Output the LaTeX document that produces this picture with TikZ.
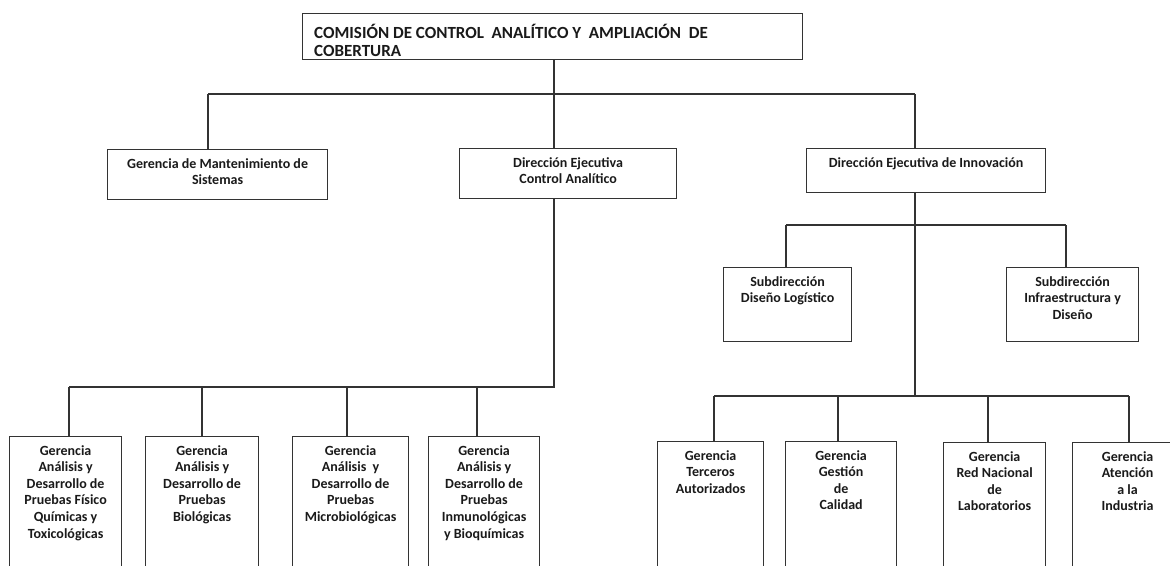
\documentclass[tikz,border=0pt]{standalone}
\usepackage{fontspec}
\setmainfont{Carlito}
\usetikzlibrary{positioning}
\definecolor{linecol}{HTML}{333333}
\definecolor{txtcol}{HTML}{1A1A1A}
\begin{document}
\begin{tikzpicture}[x=1pt,y=-1pt,
  box/.style={draw=linecol, line width=1.2pt, rectangle, anchor=north west, inner sep=0pt},
  txt/.style={anchor=north, yshift=-9pt, align=center, inner sep=0pt, text=txtcol,
    font=\bfseries\fontsize{14}{16.6}\selectfont},
  link/.style={draw=linecol, line width=1.2pt}]
\useasboundingbox (0,0) rectangle (1170,565);
\clip (0,0) rectangle (1170,565);
\fill[white] (0,0) rectangle (1170,565);

% --- boxes ---
\node[box, minimum width=500pt, minimum height=46pt] (top) at (302,13) {};
\node[box, minimum width=220pt, minimum height=50pt] (gms) at (107,149) {};
\node[box, minimum width=217pt, minimum height=50pt] (deca) at (459,148) {};
\node[box, minimum width=239pt, minimum height=44pt] (dei) at (806,148) {};
\node[box, minimum width=128pt, minimum height=74pt] (sdl) at (723,267) {};
\node[box, minimum width=132pt, minimum height=74pt] (sid) at (1006,267) {};
\node[box, minimum width=112pt, minimum height=150pt] (pfq) at (9,436) {};
\node[box, minimum width=113pt, minimum height=150pt] (pbi) at (145,436) {};
\node[box, minimum width=116pt, minimum height=150pt] (pmi) at (292,436) {};
\node[box, minimum width=111pt, minimum height=150pt] (pib) at (428,436) {};
\node[box, minimum width=106pt, minimum height=150pt] (gta) at (657,441) {};
\node[box, minimum width=111pt, minimum height=150pt] (ggc) at (785,441) {};
\node[box, minimum width=102pt, minimum height=150pt] (grn) at (943,442) {};
\node[box, minimum width=110pt, minimum height=150pt] (gai) at (1072,442) {};

% --- texts ---
\node[anchor=north west, align=left, inner sep=0pt, text=txtcol,
  font=\bfseries\fontsize{17}{18.5}\selectfont] (topt) at (314,24)
  {COMISIÓN DE CONTROL\ \ ANALÍTICO Y\ \ AMPLIACIÓN\ \ DE\\COBERTURA};
\node[txt] (gmst) at (gms.north) {Gerencia de Mantenimiento de\\Sistemas};
\node[txt] (decat) at (deca.north) {Dirección Ejecutiva\\Control Analítico};
\node[txt] (deit) at (dei.north) {Dirección Ejecutiva de Innovación};
\node[txt] (sdlt) at (sdl.north) {Subdirección\\Diseño Logístico};
\node[txt] (sidt) at (sid.north) {Subdirección\\Infraestructura y\\Diseño};
\node[txt] (pfqt) at (pfq.north) {Gerencia\\Análisis y\\Desarrollo de\\Pruebas Físico\\Químicas y\\Toxicológicas};
\node[txt] (pbit) at (pbi.north) {Gerencia\\Análisis y\\Desarrollo de\\Pruebas\\Biológicas};
\node[txt] (pmit) at (pmi.north) {Gerencia\\Análisis\ \ y\\Desarrollo de\\Pruebas\\Microbiológicas};
\node[txt] (pibt) at (pib.north) {Gerencia\\Análisis y\\Desarrollo de\\Pruebas\\Inmunológicas\\y Bioquímicas};
\node[txt] (gtat) at (gta.north) {Gerencia\\Terceros\\Autorizados};
\node[txt] (ggct) at (ggc.north) {Gerencia\\Gestión\\de\\Calidad};
\node[txt] (grnt) at (grn.north) {Gerencia\\Red Nacional\\de\\Laboratorios};
\node[txt] (gait) at (gai.north) {Gerencia\\Atención\\a la\\Industria};

% --- bus junctions ---
\coordinate (j0) at (554,94);
\coordinate (jl) at (208,94);
\coordinate (jr) at (915,94);
\coordinate (k0) at (554,387);
\coordinate (kl) at (69,387);
\coordinate (k2) at (202,387);
\coordinate (k3) at (347,387);
\coordinate (k4) at (477,387);
\coordinate (s0) at (915,225);
\coordinate (sl) at (786,225);
\coordinate (sr) at (1066,225);
\coordinate (m0) at (915,396);
\coordinate (m1) at (714,396);
\coordinate (m2) at (838,396);
\coordinate (m3) at (988,396);
\coordinate (m4) at (1129,396);

% --- connectors ---
\draw[link] (j0 |- top.south) -- (j0);
\draw[link] (jl) -- (jr);
\draw[link] (jl) -- (jl |- gms.north);
\draw[link] (j0) -- (j0 |- deca.north);
\draw[link] (jr) -- (jr |- dei.north);

\draw[link] (k0 |- deca.south) -- (k0) -- (kl);
\draw[link] (kl) -- (kl |- pfq.north);
\draw[link] (k2) -- (k2 |- pbi.north);
\draw[link] (k3) -- (k3 |- pmi.north);
\draw[link] (k4) -- (k4 |- pib.north);

\draw[link] (s0 |- dei.south) -- (m0);
\draw[link] (sl) -- (sr);
\draw[link] (sl) -- (sl |- sdl.north);
\draw[link] (sr) -- (sr |- sid.north);

\draw[link] (m1) -- (m4);
\draw[link] (m1) -- (m1 |- gta.north);
\draw[link] (m2) -- (m2 |- ggc.north);
\draw[link] (m3) -- (m3 |- grn.north);
\draw[link] (m4) -- (m4 |- gai.north);
\end{tikzpicture}
\end{document}
